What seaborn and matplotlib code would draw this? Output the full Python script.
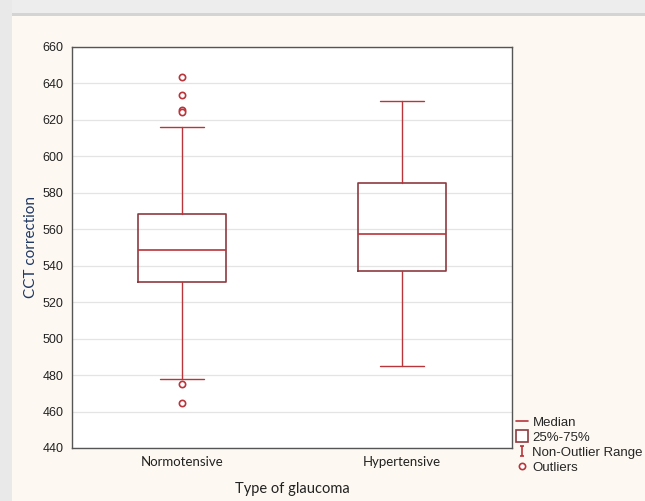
"""
Box plot of CCT correction by type of glaucoma (Statistica style).
"""

import matplotlib.pyplot as plt
import seaborn as sns
from matplotlib.lines import Line2D
from matplotlib.patches import Rectangle
from matplotlib.path import Path

# summary values
groups = ["Normotensive", "Hypertensive"]
q1 = [531.0, 537.0]
medians = [548.5, 557.5]
q3 = [568.5, 585.5]
whisker_low = [478.0, 485.0]
whisker_high = [616.0, 630.5]
outliers = [[643.5, 633.5, 625.5, 624.5, 475.0, 464.5], []]

y_ticks = list(range(440, 661, 20))

sns.set_theme(style="white")
plt.rcParams["font.family"] = ["Liberation Sans", "DejaVu Sans"]

BG = "#fdf9f2"
BOX_EDGE = "#8c3b3f"
RED = "#b8353b"

fig = plt.figure(figsize=(6.45, 5.01), dpi=100, facecolor=BG)
# window frame strips (top and left)
fig.patches.append(Rectangle((0, 0.972), 1, 0.028, transform=fig.transFigure,
                             facecolor="#ededed", edgecolor="none", zorder=-2))
fig.patches.append(Rectangle((0, 0.968), 1, 0.006, transform=fig.transFigure,
                             facecolor="#d4d4d4", edgecolor="none", zorder=-2))
fig.patches.append(Rectangle((0, 0), 0.019, 1, transform=fig.transFigure,
                             facecolor="#e9e9e9", edgecolor="none", zorder=-2))

ax = fig.add_axes([0.1116, 0.1058, 0.6822, 0.8004])
ax.set_facecolor("white")

stats = []
for i, name in enumerate(groups):
    stats.append({
        "label": name,
        "q1": q1[i],
        "med": medians[i],
        "q3": q3[i],
        "whislo": whisker_low[i],
        "whishi": whisker_high[i],
        "fliers": outliers[i],
    })

ax.bxp(
    stats,
    positions=range(len(groups)),
    widths=0.4,
    showfliers=True,
    boxprops=dict(color=BOX_EDGE, linewidth=1.2),
    medianprops=dict(color=RED, linewidth=1.2),
    whiskerprops=dict(color=RED, linewidth=1.0),
    capprops=dict(color=RED, linewidth=1.0),
    capwidths=0.2,
    flierprops=dict(marker="o", markersize=4.5, markerfacecolor="white",
                    markeredgecolor=RED, markeredgewidth=1.2),
)

ax.set_xlim(-0.5, 1.5)
ax.set_ylim(440, 660)
ax.set_yticks(y_ticks)
ax.yaxis.grid(True, color="#e4e4e4", linewidth=0.9)
ax.set_axisbelow(True)

for sp in ax.spines.values():
    sp.set_color("#555555")
    sp.set_linewidth(1.0)

ax.tick_params(axis="both", direction="in", length=3, width=0.8, color="#555555",
               labelsize=9, labelcolor="#222222")
ax.tick_params(axis="x", pad=6)
ax.tick_params(axis="y", pad=6)
ax.set_xticks(range(len(groups)))
ax.set_xticklabels(groups, fontfamily="Lato", fontsize=9.5)

ax.set_xlabel("Type of glaucoma", fontfamily="Lato", fontsize=10.5,
              color="#222222", labelpad=10)
ax.set_ylabel("CCT correction", fontfamily="Lato", fontsize=11,
              color="#1f3864", labelpad=3)

# legend with Statistica style keys
i_marker = Path(
    [(-0.5, -1), (0.5, -1), (0, -1), (0, 1), (-0.5, 1), (0.5, 1)],
    [Path.MOVETO, Path.LINETO, Path.MOVETO, Path.LINETO, Path.MOVETO, Path.LINETO],
)
handles = [
    Line2D([], [], color=RED, linewidth=1.2),
    Line2D([], [], linestyle="none", marker="s", markersize=8,
           markerfacecolor="white", markeredgecolor=BOX_EDGE, markeredgewidth=1.2),
    Line2D([], [], linestyle="none", marker=i_marker, markersize=7,
           markeredgecolor=RED, markeredgewidth=1.2),
    Line2D([], [], linestyle="none", marker="o", markersize=4.5,
           markerfacecolor="white", markeredgecolor=RED, markeredgewidth=1.2),
]
labels = ["Median", "25%-75%", "Non-Outlier Range", "Outliers"]
fig.legend(handles, labels, loc="upper left", bbox_to_anchor=(0.800, 0.168),
           frameon=False, fontsize=9.5, handlelength=0.9, handletextpad=0.35,
           labelspacing=0.21, borderpad=0, borderaxespad=0)

fig.savefig("out.png", dpi=100, facecolor=BG)
